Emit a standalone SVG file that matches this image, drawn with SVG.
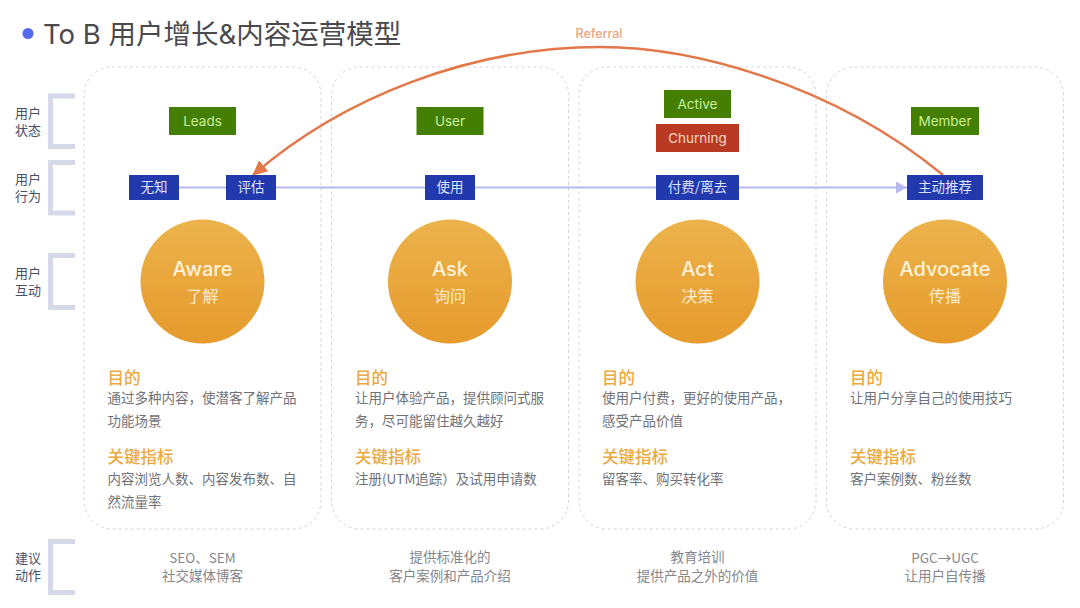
<svg xmlns="http://www.w3.org/2000/svg" width="1080" height="608" viewBox="0 0 1080 608">
<defs>
<linearGradient id="orb" x1="0" y1="0" x2="0" y2="1"><stop offset="0" stop-color="#ecb34c"/><stop offset="1" stop-color="#e69a2c"/></linearGradient>
<marker id="ha" markerUnits="userSpaceOnUse" markerWidth="18" markerHeight="16" refX="14" refY="7" orient="auto"><path d="M0 0L15 7L0 14Z" fill="#e2784a"/></marker>
<marker id="hb" markerUnits="userSpaceOnUse" markerWidth="14" markerHeight="14" refX="11" refY="6" orient="auto"><path d="M0 0L11 6L0 12Z" fill="#b6b9ec"/></marker>
</defs>
<style>
text{font-family:"Noto Sans CJK SC","Noto Sans",sans-serif}
.card{fill:#fff;stroke:#d3d5da;stroke-width:1;stroke-dasharray:3 3}
.br{fill:none;stroke:#d6d9e8;stroke-width:5}
.side{font-size:13px;fill:#4a4f68;text-anchor:middle}
.g{fill:#447f04}.r{fill:#b93a22}.b{fill:#2239ae}
.tg{font-size:13.500px;fill:#c8f09a;text-anchor:middle;font-family:"Inter","Noto Sans",sans-serif}
.tr{font-size:13.500px;fill:#f8d5c4;text-anchor:middle;font-family:"Inter","Noto Sans",sans-serif}
.tb{font-size:13.500px;fill:#dfe3fb;text-anchor:middle}
.on{font-size:20px;font-weight:500;fill:#fdf2d8;text-anchor:middle;font-family:"Inter","Noto Sans",sans-serif}
.oc{font-size:16px;fill:#fbeccb;text-anchor:middle}
.h{font-size:16.500px;font-weight:500;fill:#eba93f}
.p{font-size:13.500px;fill:#707278}
.s{font-size:13.500px;fill:#85878c;text-anchor:middle}
</style>
<rect width="1080" height="608" fill="#fff"/>
<g id="title"><circle cx="28" cy="33.500" r="5.500" fill="#5469ef"/><text x="43" y="44" font-size="27.500" fill="#4a4a4d" style="font-family:'Inter','Noto Sans CJK SC',sans-serif">To B 用户增长&amp;内容运营模型</text></g>
<g id="card-aware"><rect class="card" x="84" y="67" width="237" height="462" rx="28"/></g>
<g id="card-ask"><rect class="card" x="331.500" y="67" width="237" height="462" rx="28"/></g>
<g id="card-act"><rect class="card" x="579" y="67" width="237" height="462" rx="28"/></g>
<g id="card-advocate"><rect class="card" x="826.500" y="67" width="237" height="462" rx="28"/></g>
<g id="row-labels">
<path class="br" d="M75 96H50.500V146.500H75"/><text class="side"><tspan x="28" y="118">用户</tspan><tspan x="28" y="135">状态</tspan></text>
<path class="br" d="M75 162.500H50.500V213H75"/><text class="side"><tspan x="28" y="184">用户</tspan><tspan x="28" y="201">行为</tspan></text>
<path class="br" d="M75 255.500H50.500V307.500H75"/><text class="side"><tspan x="28" y="278">用户</tspan><tspan x="28" y="295">互动</tspan></text>
<path class="br" d="M75 541.500H50.500V592.500H75"/><text class="side"><tspan x="28" y="563">建议</tspan><tspan x="28" y="580">动作</tspan></text>
</g>
<g id="connectors">
<path d="M179 187.500H907" fill="none" stroke="#b6b9ec" stroke-width="2" marker-end="url(#hb)"/>
<path d="M943 175C830 82 690 47 600 47C470 47 342 98 253 175" fill="none" stroke="#e2784a" stroke-width="2.500" marker-end="url(#ha)"/>
<text x="599" y="38" font-size="12.500" font-weight="500" fill="#e8a582" text-anchor="middle" style="font-family:'Inter','Noto Sans',sans-serif">Referral</text>
</g>
<g id="state-leads"><rect class="g" x="169" y="107" width="67" height="28"/><text class="tg" x="202.500" y="126">Leads</text></g>
<g id="state-user"><rect class="g" x="416.500" y="107" width="67" height="28"/><text class="tg" x="450" y="126">User</text></g>
<g id="state-active"><rect class="g" x="664" y="90" width="67" height="28"/><text class="tg" x="697.500" y="109">Active</text></g>
<g id="state-churning"><rect class="r" x="656" y="124" width="83" height="28"/><text class="tr" x="697.500" y="143">Churning</text></g>
<g id="state-member"><rect class="g" x="911" y="107" width="68" height="28"/><text class="tg" x="945" y="126">Member</text></g>
<g id="act-wuzhi"><rect class="b" x="129" y="175" width="50" height="25"/><text class="tb" x="154" y="192">无知</text></g>
<g id="act-pinggu"><rect class="b" x="226" y="175" width="50" height="25"/><text class="tb" x="251" y="192">评估</text></g>
<g id="act-shiyong"><rect class="b" x="425" y="175" width="50" height="25"/><text class="tb" x="450" y="192">使用</text></g>
<g id="act-fufei"><rect class="b" x="656" y="175" width="83" height="25"/><text class="tb" x="697.500" y="192">付费/离去</text></g>
<g id="act-tuijian"><rect class="b" x="907" y="175" width="76" height="25"/><text class="tb" x="945" y="192">主动推荐</text></g>
<g id="orb-aware"><circle cx="202.500" cy="281.500" r="62" fill="url(#orb)"/><text class="on" x="202.500" y="276">Aware</text><text class="oc" x="202.500" y="302">了解</text></g>
<g id="orb-ask"><circle cx="450" cy="281.500" r="62" fill="url(#orb)"/><text class="on" x="450" y="276">Ask</text><text class="oc" x="450" y="302">询问</text></g>
<g id="orb-act"><circle cx="697.500" cy="281.500" r="62" fill="url(#orb)"/><text class="on" x="697.500" y="276">Act</text><text class="oc" x="697.500" y="302">决策</text></g>
<g id="orb-advocate"><circle cx="945" cy="281.500" r="62" fill="url(#orb)"/><text class="on" x="945" y="276">Advocate</text><text class="oc" x="945" y="302">传播</text></g>
<g id="text-aware"><text class="h" x="107.500" y="384">目的</text><text class="p" x="107.500" y="403">通过多种内容，使潜客了解产品</text><text class="p" x="107.500" y="426">功能场景</text><text class="h" x="107.500" y="463">关键指标</text><text class="p" x="107.500" y="484">内容浏览人数、内容发布数、自</text><text class="p" x="107.500" y="507">然流量率</text></g>
<g id="text-ask"><text class="h" x="355" y="384">目的</text><text class="p" x="355" y="403">让用户体验产品，提供顾问式服</text><text class="p" x="355" y="426">务，尽可能留住越久越好</text><text class="h" x="355" y="463">关键指标</text><text class="p" x="355" y="484">注册(UTM追踪）及试用申请数</text></g>
<g id="text-act"><text class="h" x="602" y="384">目的</text><text class="p" x="602" y="403">使用户付费，更好的使用产品，</text><text class="p" x="602" y="426">感受产品价值</text><text class="h" x="602" y="463">关键指标</text><text class="p" x="602" y="484">留客率、购买转化率</text></g>
<g id="text-advocate"><text class="h" x="850" y="384">目的</text><text class="p" x="850" y="403">让用户分享自己的使用技巧</text><text class="h" x="850" y="463">关键指标</text><text class="p" x="850" y="484">客户案例数、粉丝数</text></g>
<g id="actions">
<text class="s"><tspan x="202.500" y="563">SEO、SEM</tspan><tspan x="202.500" y="581">社交媒体博客</tspan></text>
<text class="s"><tspan x="450" y="562">提供标准化的</tspan><tspan x="450" y="581">客户案例和产品介绍</tspan></text>
<text class="s"><tspan x="697.500" y="562">教育培训</tspan><tspan x="697.500" y="581">提供产品之外的价值</tspan></text>
<text class="s"><tspan x="945" y="563">PGC→UGC</tspan><tspan x="945" y="581">让用户自传播</tspan></text>
</g>
</svg>
